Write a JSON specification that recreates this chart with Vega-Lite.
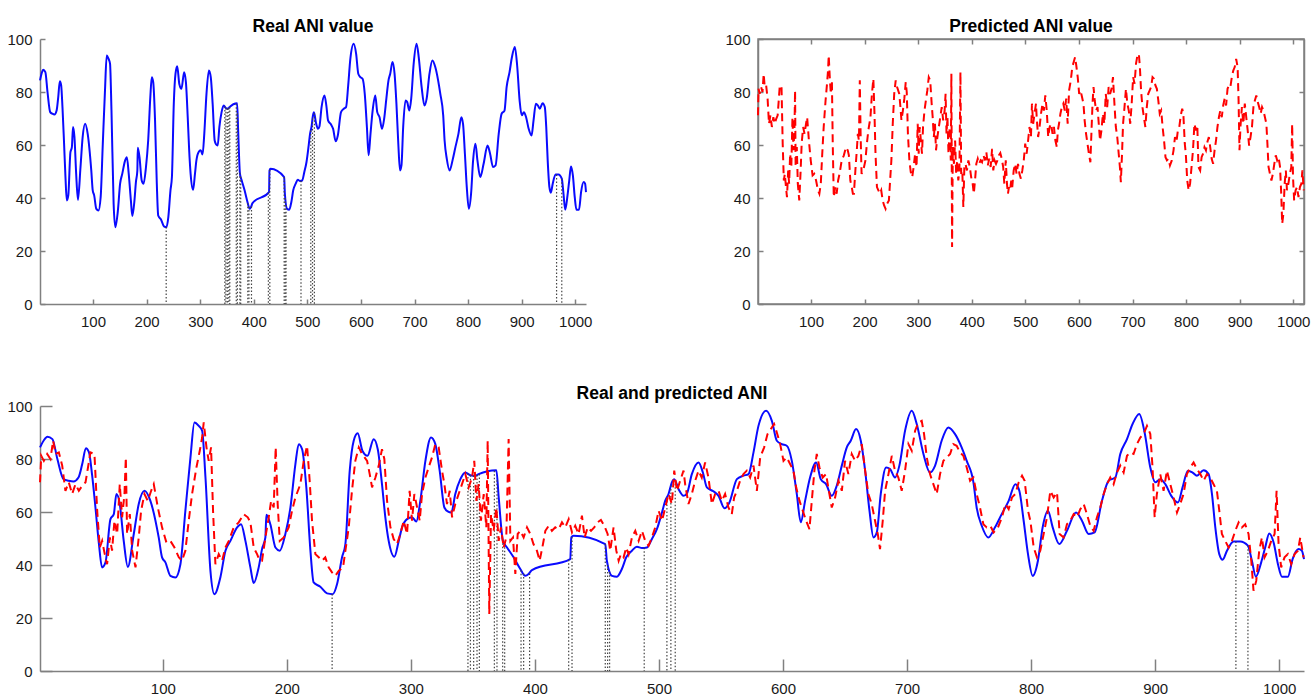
{
  "$schema": "https://vega.github.io/schema/vega-lite/v6.json",
  "padding": {"left": 6, "top": 16, "right": 0, "bottom": 0},
  "background": "white",
  "config": {
    "view": {"stroke": null},
    "font": "Liberation Sans",
    "axis": {"domainColor": "#808080", "tickColor": "#808080", "domainWidth": 1.5, "tickWidth": 1.5, "labelColor": "#1a1a1a", "labelFontSize": 15, "labelFont": "Liberation Sans", "grid": false},
    "title": {"fontSize": 17.5, "fontWeight": "bold", "color": "#000000", "font": "Liberation Sans", "offset": -3}
  },
  "datasets": {
    "real": [
      {"x":1,"y":84.4},{"x":4,"y":87},{"x":7,"y":88.4},{"x":11,"y":87.5},{"x":15,"y":80},{"x":20,"y":72.4},{"x":24,"y":71.8},{"x":28,"y":71.5},{"x":32,"y":73},{"x":35,"y":78},{"x":38,"y":84.1},{"x":40.5,"y":82.5},{"x":43,"y":74},{"x":45.7,"y":61.7},{"x":48.5,"y":48},{"x":51,"y":39.1},{"x":53.8,"y":41},{"x":57.8,"y":57.3},{"x":60.5,"y":59.2},{"x":62.6,"y":66.8},{"x":65.3,"y":63},{"x":68.5,"y":49.1},{"x":71.8,"y":39.3},{"x":76.6,"y":51.7},{"x":80.6,"y":63},{"x":85.2,"y":68},{"x":90,"y":64.2},{"x":96.7,"y":50.4},{"x":99.4,"y":42.9},{"x":102.1,"y":41},{"x":106.1,"y":35.9},{"x":110.2,"y":35.3},{"x":114.2,"y":40.3},{"x":118.2,"y":60.5},{"x":122.3,"y":80.6},{"x":125.5,"y":93.8},{"x":129,"y":92.5},{"x":131.7,"y":90.7},{"x":134.4,"y":73},{"x":138.4,"y":37.8},{"x":141.6,"y":29},{"x":146.4,"y":35.3},{"x":150.5,"y":45.4},{"x":154.5,"y":49.1},{"x":159.9,"y":54.2},{"x":163.1,"y":55.4},{"x":166.6,"y":49.1},{"x":170.6,"y":39.1},{"x":173.3,"y":33.2},{"x":177.3,"y":39.1},{"x":180,"y":46},{"x":182.7,"y":50.4},{"x":183.5,"y":59},{"x":186.7,"y":55.4},{"x":190.8,"y":46.6},{"x":194.3,"y":45.4},{"x":198.8,"y":51.7},{"x":202.9,"y":61.7},{"x":206.9,"y":78.1},{"x":209.6,"y":85.6},{"x":212.3,"y":83.7},{"x":215.7,"y":69.3},{"x":219,"y":45.4},{"x":221.6,"y":33.4},{"x":227,"y":31.8},{"x":232.4,"y":29.3},{"x":237,"y":29},{"x":240.5,"y":32.8},{"x":244.5,"y":42.9},{"x":247.2,"y":47.9},{"x":250.7,"y":75.6},{"x":253.9,"y":86.9},{"x":257.1,"y":89.7},{"x":261,"y":83},{"x":265,"y":81.2},{"x":270,"y":87.5},{"x":273.3,"y":83.7},{"x":276.7,"y":70.5},{"x":279.4,"y":58},{"x":282.1,"y":49.1},{"x":286.7,"y":43.1},{"x":290.2,"y":49.1},{"x":292.9,"y":54.2},{"x":296.9,"y":57.3},{"x":300.9,"y":58},{"x":304.4,"y":56.4},{"x":307.6,"y":64.2},{"x":311.7,"y":79.3},{"x":316.2,"y":88.1},{"x":319.7,"y":85.6},{"x":323.2,"y":75.6},{"x":327,"y":61.7},{"x":329.7,"y":60.2},{"x":332.6,"y":59.8},{"x":335.8,"y":66.8},{"x":339.9,"y":72.4},{"x":343.9,"y":74.9},{"x":347.9,"y":73.9},{"x":352,"y":73.7},{"x":354.6,"y":74.3},{"x":368.9,"y":75.8},{"x":370.8,"y":65.5},{"x":374.2,"y":49.1},{"x":377.5,"y":46.6},{"x":382.8,"y":42.9},{"x":388.2,"y":38.5},{"x":392.2,"y":35.9},{"x":394.9,"y":36.6},{"x":397.6,"y":38.1},{"x":428.5,"y":42.2},{"x":429.3,"y":50.4},{"x":431.2,"y":51},{"x":456.7,"y":47.9},{"x":458,"y":41.6},{"x":462.1,"y":35.9},{"x":466.1,"y":35.6},{"x":470.1,"y":38.5},{"x":473.6,"y":42.9},{"x":478.2,"y":45.4},{"x":482.2,"y":46.9},{"x":486.3,"y":46.4},{"x":490.3,"y":46.6},{"x":494.3,"y":49.8},{"x":498.3,"y":53.5},{"x":502.4,"y":59.8},{"x":505,"y":64.2},{"x":507.7,"y":66.8},{"x":510.4,"y":71.2},{"x":512.3,"y":72.4},{"x":515.8,"y":68.6},{"x":519.8,"y":66.1},{"x":522.5,"y":67},{"x":526.5,"y":74.3},{"x":531.9,"y":78.7},{"x":535.4,"y":74.9},{"x":538.6,"y":69.3},{"x":543.9,"y":67.8},{"x":548,"y":66.1},{"x":552.8,"y":61.4},{"x":556.8,"y":63.6},{"x":562.8,"y":72.4},{"x":568.1,"y":73.7},{"x":572.2,"y":74.3},{"x":576.2,"y":82.5},{"x":580.2,"y":92.5},{"x":586.4,"y":98.2},{"x":591,"y":94.4},{"x":595,"y":86.9},{"x":599,"y":85.6},{"x":603,"y":85},{"x":607.1,"y":79.3},{"x":611.1,"y":66.8},{"x":614.3,"y":56.1},{"x":617.8,"y":64.2},{"x":621.8,"y":73},{"x":626.7,"y":78.7},{"x":630.4,"y":72.4},{"x":634.7,"y":70.5},{"x":639.3,"y":66.1},{"x":643.3,"y":69.9},{"x":647.4,"y":77.5},{"x":651.4,"y":84.4},{"x":654.6,"y":86.9},{"x":658.9,"y":91.3},{"x":662.7,"y":86.9},{"x":666.2,"y":75.6},{"x":669.7,"y":60.5},{"x":672.9,"y":50.4},{"x":675.6,"y":52.3},{"x":678.8,"y":66.8},{"x":683.1,"y":76.8},{"x":686.3,"y":76.2},{"x":690.3,"y":73},{"x":693.8,"y":77.5},{"x":698.4,"y":90.7},{"x":703.8,"y":98.2},{"x":707.8,"y":93.2},{"x":713.2,"y":81.9},{"x":718.5,"y":74.9},{"x":722.6,"y":77.5},{"x":727.9,"y":86.9},{"x":733.3,"y":91.9},{"x":738.7,"y":89.4},{"x":744,"y":84.4},{"x":748.1,"y":79.3},{"x":753.5,"y":71.2},{"x":756.1,"y":61.7},{"x":760.2,"y":54.8},{"x":765.5,"y":50.4},{"x":770.9,"y":54.2},{"x":776.3,"y":59.2},{"x":781.9,"y":64.2},{"x":787.3,"y":70.5},{"x":790.5,"y":68},{"x":794,"y":56.7},{"x":797.5,"y":44.1},{"x":801.3,"y":35.9},{"x":805.5,"y":41.6},{"x":809.3,"y":54.2},{"x":813.6,"y":60.5},{"x":817.4,"y":54.2},{"x":822.7,"y":47.9},{"x":828.9,"y":52.9},{"x":836.2,"y":59.8},{"x":841,"y":56.7},{"x":846.4,"y":51.7},{"x":851.2,"y":52.3},{"x":857.1,"y":64.2},{"x":862.5,"y":71.8},{"x":867.9,"y":73},{"x":871.9,"y":81.9},{"x":877.3,"y":87.5},{"x":881.8,"y":93.2},{"x":887.2,"y":97},{"x":891.5,"y":90},{"x":896.1,"y":76.8},{"x":900.1,"y":71.2},{"x":904.1,"y":72.4},{"x":908.2,"y":70.5},{"x":913,"y":66.1},{"x":918.4,"y":63.6},{"x":922.1,"y":69.3},{"x":926.4,"y":75.6},{"x":930.2,"y":74.9},{"x":933.7,"y":73.7},{"x":939.1,"y":75.8},{"x":943.1,"y":74.3},{"x":945.8,"y":66.8},{"x":948.5,"y":54.2},{"x":951.7,"y":44.1},{"x":954.4,"y":42},{"x":957.9,"y":45.4},{"x":963.2,"y":48.9},{"x":968.6,"y":48.9},{"x":974.8,"y":47.3},{"x":978,"y":41.6},{"x":981.2,"y":35.6},{"x":985.5,"y":41},{"x":988.7,"y":46.6},{"x":992,"y":51.9},{"x":995.5,"y":48.5},{"x":999,"y":40.3},{"x":1002.2,"y":35.6},{"x":1007,"y":35.6},{"x":1010.8,"y":42.2},{"x":1015.6,"y":46},{"x":1018.3,"y":45.4},{"x":1020,"y":42.2}
    ],
    "pred": [
      {"x":1,"y":71.2},{"x":2,"y":81.2},{"x":4.1,"y":79.3},{"x":6.8,"y":81.9},{"x":9.4,"y":80},{"x":11.6,"y":86.9},{"x":13.5,"y":81.9},{"x":16.2,"y":82.5},{"x":18.9,"y":77.5},{"x":21.5,"y":68},{"x":24.2,"y":71.2},{"x":26.9,"y":66.8},{"x":29.6,"y":70.5},{"x":32.3,"y":68},{"x":35,"y":69.9},{"x":37.7,"y":71.2},{"x":41.7,"y":82.5},{"x":44.9,"y":81.9},{"x":47.1,"y":60.5},{"x":49.2,"y":46.6},{"x":51.1,"y":49.1},{"x":53.2,"y":44.1},{"x":55.1,"y":40.3},{"x":57.3,"y":50.4},{"x":59.1,"y":45.4},{"x":61,"y":56.7},{"x":63.2,"y":51.7},{"x":65.3,"y":70.5},{"x":67.2,"y":58},{"x":69.1,"y":66.8},{"x":70.2,"y":80.6},{"x":71.2,"y":51.7},{"x":73.4,"y":59.2},{"x":75.3,"y":45.4},{"x":78,"y":39.1},{"x":80.6,"y":50.4},{"x":82.5,"y":60.5},{"x":85.2,"y":66.8},{"x":87.9,"y":64.2},{"x":90.6,"y":68},{"x":92.7,"y":70.5},{"x":96,"y":61.7},{"x":99.4,"y":54.2},{"x":102.9,"y":48.5},{"x":106.1,"y":49.1},{"x":109.4,"y":46.6},{"x":112.9,"y":42.9},{"x":115.5,"y":41.6},{"x":118.2,"y":45.4},{"x":120.9,"y":56.7},{"x":123.6,"y":66.8},{"x":127.1,"y":76.8},{"x":129.8,"y":83.1},{"x":131.7,"y":88.1},{"x":133,"y":93.8},{"x":135.2,"y":84.4},{"x":137,"y":79.3},{"x":138.9,"y":84.4},{"x":140.5,"y":60.5},{"x":142.4,"y":40.3},{"x":145.1,"y":44.1},{"x":147.8,"y":41.6},{"x":150.5,"y":46.6},{"x":153.2,"y":49.1},{"x":157.2,"y":54.2},{"x":161.2,"y":56.1},{"x":165.2,"y":59.2},{"x":168.5,"y":58},{"x":170.6,"y":56.1},{"x":173.3,"y":46.6},{"x":176,"y":44.1},{"x":178.1,"y":41.6},{"x":180,"y":41.6},{"x":182.7,"y":50.4},{"x":185.4,"y":58},{"x":187.3,"y":64.2},{"x":189.4,"y":61.7},{"x":191,"y":84.4},{"x":192.6,"y":63},{"x":194.3,"y":49.1},{"x":197.5,"y":50.4},{"x":201.5,"y":54.2},{"x":204.2,"y":60.5},{"x":206.9,"y":65.5},{"x":210.9,"y":70.5},{"x":213.6,"y":79.3},{"x":216.3,"y":85},{"x":218.4,"y":71.8},{"x":220.3,"y":56.7},{"x":223,"y":44.1},{"x":225.7,"y":42.9},{"x":228.4,"y":41.6},{"x":231,"y":42.9},{"x":233.7,"y":39.1},{"x":236.4,"y":37.2},{"x":239.1,"y":35.9},{"x":241.8,"y":37.8},{"x":245.3,"y":39.1},{"x":247.2,"y":45.4},{"x":249.9,"y":54.2},{"x":252.5,"y":68},{"x":255.2,"y":79.3},{"x":258,"y":84.4},{"x":260.6,"y":81.9},{"x":264.7,"y":79.3},{"x":266.8,"y":74.3},{"x":268.7,"y":69.3},{"x":271.4,"y":73},{"x":274.1,"y":77.5},{"x":276.7,"y":83.7},{"x":278.6,"y":80},{"x":280.8,"y":64.2},{"x":283.5,"y":54.2},{"x":286.1,"y":49.8},{"x":288.8,"y":47.9},{"x":291.5,"y":51.7},{"x":294.2,"y":56.7},{"x":296.9,"y":51.7},{"x":299,"y":68},{"x":300.9,"y":56.7},{"x":302.8,"y":66.8},{"x":305,"y":61.7},{"x":307.1,"y":56.7},{"x":309,"y":66.8},{"x":311.7,"y":73},{"x":314.3,"y":76.8},{"x":317,"y":80.6},{"x":319.7,"y":85.6},{"x":322.4,"y":84.4},{"x":325.1,"y":75.6},{"x":327,"y":70.5},{"x":329.1,"y":63},{"x":331.3,"y":68},{"x":333.2,"y":58},{"x":335.8,"y":63},{"x":338.5,"y":66.8},{"x":341.2,"y":70.5},{"x":343.9,"y":74.3},{"x":346.6,"y":69.3},{"x":349.3,"y":73},{"x":351.1,"y":79.3},{"x":352.8,"y":64.2},{"x":354.6,"y":70.5},{"x":356.5,"y":56.7},{"x":358.7,"y":66.8},{"x":360.8,"y":54.2},{"x":361.9,"y":86.9},{"x":363.2,"y":21.5},{"x":364.6,"y":59.2},{"x":366.7,"y":52.9},{"x":368.9,"y":61.7},{"x":370.8,"y":49.1},{"x":372.6,"y":54.2},{"x":374.8,"y":46.6},{"x":376.9,"y":50.4},{"x":378.8,"y":87.5},{"x":380.2,"y":49.1},{"x":382.3,"y":50.4},{"x":384.2,"y":36.6},{"x":386.1,"y":51.7},{"x":388.2,"y":52.9},{"x":390.9,"y":50.4},{"x":393.6,"y":54.2},{"x":396.3,"y":51.7},{"x":398.8,"y":47.9},{"x":401.6,"y":45.4},{"x":403.8,"y":41.6},{"x":406.5,"y":47.9},{"x":408.4,"y":52.9},{"x":411.1,"y":54.8},{"x":413.7,"y":52.9},{"x":416.4,"y":54.2},{"x":419.1,"y":53.5},{"x":421.8,"y":56.1},{"x":424.5,"y":54.2},{"x":427.2,"y":57.3},{"x":429.9,"y":52.3},{"x":432.5,"y":54.8},{"x":435.2,"y":51.7},{"x":437.9,"y":58.6},{"x":440.1,"y":50.4},{"x":442.5,"y":54.2},{"x":445.2,"y":52.9},{"x":447.8,"y":54.2},{"x":450.5,"y":56.1},{"x":453.2,"y":57},{"x":455.9,"y":54.8},{"x":458.6,"y":51.7},{"x":460.7,"y":45.4},{"x":463.4,"y":54.2},{"x":465.6,"y":45.4},{"x":467.5,"y":41.6},{"x":469.3,"y":44.1},{"x":471.5,"y":42.9},{"x":473.6,"y":46.6},{"x":475.5,"y":44.1},{"x":478.2,"y":50.4},{"x":480.9,"y":52.9},{"x":483.6,"y":49.1},{"x":486.3,"y":52.9},{"x":488.9,"y":49.1},{"x":491.6,"y":47.3},{"x":494.3,"y":50.4},{"x":497,"y":54.2},{"x":499.7,"y":60.5},{"x":502.4,"y":56.7},{"x":505.1,"y":61.7},{"x":507.7,"y":66.8},{"x":510.4,"y":63},{"x":512.3,"y":75.6},{"x":514.5,"y":68},{"x":517.1,"y":71.8},{"x":519.8,"y":75.6},{"x":521.1,"y":70.5},{"x":523.8,"y":63},{"x":526.5,"y":66.8},{"x":529.2,"y":71.8},{"x":531.9,"y":75.6},{"x":534.5,"y":73},{"x":537.2,"y":78.7},{"x":539.9,"y":73},{"x":542.6,"y":63},{"x":545.3,"y":66.8},{"x":548,"y":68},{"x":550.7,"y":64.2},{"x":553.3,"y":66.8},{"x":556,"y":61.7},{"x":558.7,"y":59.2},{"x":560.6,"y":65.5},{"x":562.8,"y":68},{"x":565.4,"y":71.8},{"x":568.1,"y":74.3},{"x":570.8,"y":75.6},{"x":573.5,"y":73},{"x":576.2,"y":77.5},{"x":578.9,"y":68},{"x":581.6,"y":80.6},{"x":584.8,"y":84.4},{"x":587.5,"y":89.4},{"x":590.2,"y":91.3},{"x":592.8,"y":93.2},{"x":595,"y":90},{"x":597.7,"y":85.6},{"x":600.4,"y":79.3},{"x":603,"y":80.6},{"x":605.7,"y":78.1},{"x":608.4,"y":75.6},{"x":610.6,"y":69.3},{"x":613.3,"y":64.2},{"x":615.9,"y":60.5},{"x":618.6,"y":56.7},{"x":621.3,"y":53.5},{"x":623.2,"y":64.2},{"x":625.3,"y":75.6},{"x":627.2,"y":81.9},{"x":629.4,"y":76.8},{"x":632,"y":73},{"x":634.7,"y":74.3},{"x":637.4,"y":66.8},{"x":639.3,"y":61.7},{"x":642,"y":65.5},{"x":644.7,"y":71.8},{"x":647.4,"y":68},{"x":650,"y":79.3},{"x":652.7,"y":74.3},{"x":655.4,"y":81.9},{"x":658.1,"y":79.3},{"x":660.8,"y":81.2},{"x":663.5,"y":85.6},{"x":666.2,"y":75.6},{"x":668.8,"y":66.8},{"x":671.5,"y":63},{"x":674.2,"y":56.7},{"x":676.4,"y":51.7},{"x":678.2,"y":46},{"x":680.4,"y":56.7},{"x":682.3,"y":68},{"x":685,"y":74.3},{"x":687.7,"y":81.2},{"x":690.3,"y":75.6},{"x":693,"y":73},{"x":695.7,"y":68},{"x":698.4,"y":75.6},{"x":701.1,"y":85.6},{"x":703.8,"y":83.1},{"x":706.5,"y":90.7},{"x":709.1,"y":93.8},{"x":711.8,"y":94.4},{"x":713.7,"y":89.4},{"x":715.9,"y":80.6},{"x":718.5,"y":74.3},{"x":721.2,"y":70.5},{"x":723.9,"y":66.8},{"x":726.6,"y":74.3},{"x":729.3,"y":79.3},{"x":732,"y":80.6},{"x":734.7,"y":81.9},{"x":737.3,"y":85.6},{"x":740,"y":85},{"x":742.7,"y":82.5},{"x":745.4,"y":81.2},{"x":748.1,"y":76.8},{"x":750.8,"y":71.8},{"x":753.5,"y":73},{"x":756.1,"y":66.8},{"x":758.8,"y":61.7},{"x":761.5,"y":55.4},{"x":764.2,"y":54.2},{"x":767.1,"y":54.8},{"x":769.8,"y":52.3},{"x":773.3,"y":54.2},{"x":776.5,"y":58},{"x":779.2,"y":63},{"x":781.9,"y":61.1},{"x":784.6,"y":65.5},{"x":787.3,"y":66.8},{"x":790,"y":71.2},{"x":792.7,"y":73.7},{"x":794.8,"y":71.8},{"x":797.5,"y":60.5},{"x":799.4,"y":56.7},{"x":802.1,"y":46.6},{"x":804.7,"y":42.9},{"x":807.4,"y":45.4},{"x":810.1,"y":51.7},{"x":812.8,"y":58},{"x":815.5,"y":68},{"x":818.2,"y":65.5},{"x":820.9,"y":67.4},{"x":823,"y":51.7},{"x":826.2,"y":50.4},{"x":828.9,"y":55.4},{"x":831.6,"y":56.7},{"x":834.3,"y":59.2},{"x":837,"y":58},{"x":839.7,"y":61.1},{"x":842.4,"y":63},{"x":845,"y":59.2},{"x":847.7,"y":54.8},{"x":850.4,"y":52.9},{"x":853.1,"y":58},{"x":855.8,"y":61.7},{"x":858.5,"y":66.8},{"x":861.2,"y":70.5},{"x":863.8,"y":73},{"x":866.5,"y":70.5},{"x":869.2,"y":74.9},{"x":871.9,"y":77.5},{"x":874.6,"y":74.9},{"x":877.3,"y":81.2},{"x":879.9,"y":82.5},{"x":882.6,"y":81.9},{"x":885.3,"y":85.6},{"x":888,"y":88.1},{"x":890.7,"y":89.4},{"x":893.4,"y":92.5},{"x":896.1,"y":89.4},{"x":897.9,"y":76.8},{"x":899.6,"y":58},{"x":901.4,"y":66.8},{"x":904.1,"y":74.3},{"x":906.8,"y":68},{"x":909.5,"y":75.6},{"x":912.2,"y":70.5},{"x":914.9,"y":65.5},{"x":917.6,"y":59.8},{"x":920.2,"y":63},{"x":922.9,"y":66.8},{"x":925.6,"y":74.3},{"x":928.3,"y":76.8},{"x":931,"y":78.7},{"x":933.7,"y":76.2},{"x":936.4,"y":74.3},{"x":939.1,"y":71.8},{"x":941.7,"y":74.3},{"x":944.4,"y":73},{"x":947.1,"y":70.5},{"x":949.8,"y":68},{"x":951.7,"y":60.5},{"x":953.8,"y":51.7},{"x":956.5,"y":49.1},{"x":959.2,"y":46.6},{"x":961.9,"y":49.1},{"x":964.6,"y":52.9},{"x":967.3,"y":56.1},{"x":969.9,"y":54.2},{"x":972.6,"y":55.4},{"x":975.3,"y":51.7},{"x":977.5,"y":41.6},{"x":979.3,"y":30.3},{"x":981.5,"y":34},{"x":983.9,"y":45.4},{"x":986.1,"y":50.4},{"x":988.2,"y":42.9},{"x":990.9,"y":45.4},{"x":993.6,"y":49.1},{"x":996.3,"y":51.7},{"x":997.9,"y":68},{"x":999.5,"y":47.9},{"x":1001.6,"y":39.1},{"x":1004.3,"y":42.9},{"x":1007,"y":44.1},{"x":1009.7,"y":40.3},{"x":1012.4,"y":44.1},{"x":1015.1,"y":45.4},{"x":1017,"y":50.4},{"x":1019.6,"y":42.9}
    ],
    "gaps": [
      {"x":236.5,"top":29.1},{"x":346,"top":74.5},{"x":348,"top":73.9},{"x":350.6,"top":73.8},{"x":353.3,"top":74},{"x":355.2,"top":74.3},{"x":367.3,"top":75.6},{"x":369.4,"top":72},{"x":374,"top":49.5},{"x":375.6,"top":48},{"x":388.8,"top":38},{"x":390.9,"top":36.8},{"x":395.7,"top":36.8},{"x":427.2,"top":42},{"x":429.9,"top":50.6},{"x":456.7,"top":47.9},{"x":458.6,"top":40},{"x":460.2,"top":37.5},{"x":488.1,"top":46.5},{"x":506.4,"top":65.5},{"x":509.6,"top":70},{"x":513.1,"top":72},{"x":965.1,"top":48.9},{"x":974.8,"top":47.3}
    ]
  },
  "vconcat": [
    {
      "hconcat": [
        {
          "width": 546, "height": 265,
          "title": {"text": "Real ANI value"},
          "layer": [
            {
              "data": {"name": "real"},
              "mark": {"type": "line", "color": "#0a0aff", "strokeWidth": 2, "interpolate": "monotone"},
              "encoding": {
                "x": {"field": "x", "type": "quantitative", "title": null, "scale": {"domain": [1, 1020], "nice": false, "zero": false}, "axis": {"values": [100,200,300,400,500,600,700,800,900,1000], "format": "d", "tickSize": -5, "labelPadding": 15}},
                "y": {"field": "y", "type": "quantitative", "title": null, "scale": {"domain": [0, 100], "nice": false}, "axis": {"values": [0,20,40,60,80,100], "tickSize": -5, "labelPadding": 13}}
              }
            },
            {
              "data": {"name": "gaps"},
              "mark": {"type": "rule", "color": "#444444", "strokeWidth": 1.2, "strokeDash": [1.5, 2]},
              "encoding": {
                "x": {"field": "x", "type": "quantitative"},
                "y": {"field": "top", "type": "quantitative"},
                "y2": {"datum": 0}
              }
            }
          ]
        },
        {
          "width": 546, "height": 265,
          "title": {"text": "Predicted ANI value"},
          "view": {"stroke": "#808080", "strokeWidth": 1.5},
          "layer": [
            {
              "data": {"name": "pred"},
              "mark": {"type": "line", "color": "#ff0000", "strokeWidth": 2, "strokeDash": [8, 5]},
              "encoding": {
                "x": {"field": "x", "type": "quantitative", "title": null, "scale": {"domain": [1, 1020], "nice": false, "zero": false}, "axis": {"values": [100,200,300,400,500,600,700,800,900,1000], "format": "d", "tickSize": -5, "labelPadding": 15}},
                "y": {"field": "y", "type": "quantitative", "title": null, "scale": {"domain": [0, 100], "nice": false}, "axis": {"values": [0,20,40,60,80,100], "tickSize": -5, "labelPadding": 13}}
              }
            },
            {
              "data": {"name": "pred"},
              "mark": {"type": "line", "strokeOpacity": 0},
              "encoding": {
                "x": {"field": "x", "type": "quantitative", "title": null, "axis": {"orient": "top", "values": [100,200,300,400,500,600,700,800,900,1000], "tickSize": -5, "labels": false}},
                "y": {"field": "y", "type": "quantitative", "title": null, "axis": {"orient": "right", "values": [0,20,40,60,80,100], "tickSize": -5, "labels": false}}
              }
            }
          ],
          "resolve": {"axis": {"x": "independent", "y": "independent"}}
        }
      ],
      "spacing": 172,
      "bounds": "flush"
    },
    {
      "width": 1264, "height": 265,
      "title": {"text": "Real and predicted ANI"},
      "layer": [
        {
          "data": {"name": "real"},
          "mark": {"type": "line", "color": "#0a0aff", "strokeWidth": 2, "interpolate": "monotone"},
          "encoding": {
            "x": {"field": "x", "type": "quantitative", "title": null, "scale": {"domain": [1, 1020], "nice": false, "zero": false}, "axis": {"values": [100,200,300,400,500,600,700,800,900,1000], "format": "d", "tickSize": -12, "labelPadding": 22}},
            "y": {"field": "y", "type": "quantitative", "title": null, "scale": {"domain": [0, 100], "nice": false}, "axis": {"values": [0,20,40,60,80,100], "tickSize": -12, "labelPadding": 20}}
          }
        },
        {
          "data": {"name": "gaps"},
          "mark": {"type": "rule", "color": "#444444", "strokeWidth": 1.2, "strokeDash": [1.5, 2]},
          "encoding": {
            "x": {"field": "x", "type": "quantitative"},
            "y": {"field": "top", "type": "quantitative"},
            "y2": {"datum": 0}
          }
        },
        {
          "data": {"name": "pred"},
          "mark": {"type": "line", "color": "#ff0000", "strokeWidth": 2, "strokeDash": [8, 5]},
          "encoding": {
            "x": {"field": "x", "type": "quantitative"},
            "y": {"field": "y", "type": "quantitative"}
          }
        }
      ]
    }
  ],
  "spacing": 54
}
